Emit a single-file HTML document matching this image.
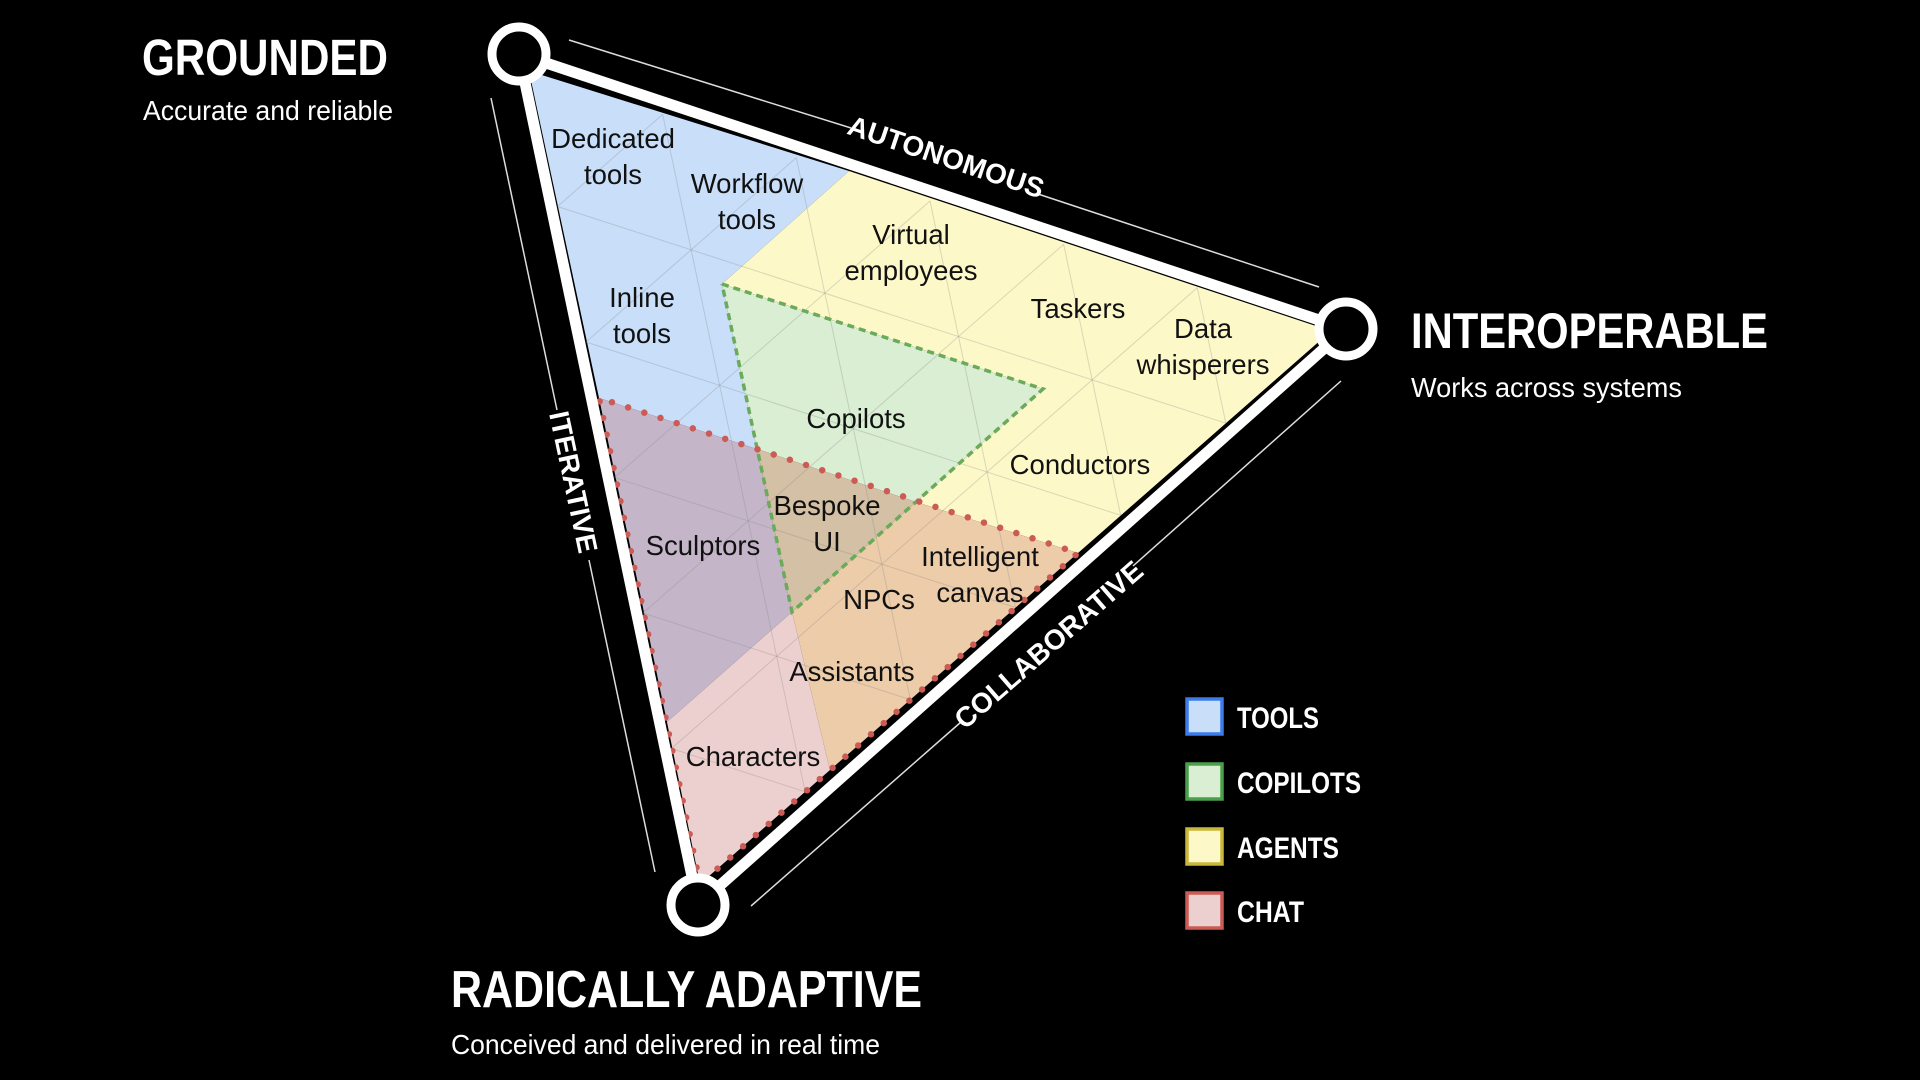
<!DOCTYPE html>
<html><head><meta charset="utf-8"><style>
html,body{margin:0;padding:0;background:#000;}
svg{display:block}
.h{font-family:"Liberation Sans Narrow","Liberation Sans",sans-serif;font-weight:bold;fill:#fff}
.s{font-family:"Liberation Sans Narrow","Liberation Sans",sans-serif;fill:#fff}
.n{font-family:"Liberation Sans",sans-serif;font-size:27.5px;fill:#111;text-anchor:middle}
.e{font-family:"Liberation Sans Narrow","Liberation Sans",sans-serif;font-weight:bold;font-size:28px;fill:#fff;text-anchor:middle}
</style></head><body>
<svg width="1920" height="1080" viewBox="0 0 1920 1080" xmlns="http://www.w3.org/2000/svg">
<rect width="1920" height="1080" fill="#000"/>
<polygon points="529,71 849,171 722,284 757,449 599,398" fill="#c9def9"/>
<polygon points="849,171 1331,331 1078,553 916,502 1043,389 722,284" fill="#fdf8c8"/>
<polygon points="722,284 1043,389 916,502 757,449" fill="#d9eed3"/>
<polygon points="757,449 916,502 792,612" fill="#d4c0a4"/>
<polygon points="599,398 757,449 792,612 667,722" fill="#c4b6c8"/>
<polygon points="667,722 792,612 830,770 700,884" fill="#ecd0cf"/>
<polygon points="792,612 916,502 1078,553 830,770" fill="#eccca9"/>
<g id="grid" stroke="#888" stroke-opacity="0.3" stroke-width="1"></g>
<polyline points="722,284 1043,389 792,612 722,284" fill="none" stroke="#6aaa5a" stroke-width="3.5" stroke-dasharray="7 5"/>
<polyline points="700,884 599,398 1078,553 700,884" fill="none" stroke="#cc5a55" stroke-width="6.5" stroke-dasharray="0 17" stroke-linecap="round"/>
<polygon points="519,54 1346,329 698,905" fill="none" stroke="#fff" stroke-width="11" stroke-linejoin="round"/>
<g fill="#000" stroke="#fff" stroke-width="9">
<circle cx="519" cy="54" r="27"/><circle cx="1346" cy="329" r="27"/><circle cx="698" cy="905" r="27"/>
</g>
<g stroke="#ddd" stroke-width="1.5">
<line x1="569" y1="40" x2="851" y2="128"/><line x1="1038" y1="194" x2="1319" y2="287"/>
<line x1="491" y1="98" x2="557" y2="410"/><line x1="589" y1="560" x2="655" y2="872"/>
<line x1="1341" y1="381" x2="1133" y2="566"/><line x1="961" y1="722" x2="751" y2="906"/>
</g>
<text class="e" transform="translate(943,166) rotate(18.5)">AUTONOMOUS</text>
<text class="e" transform="translate(564,484) rotate(78)">ITERATIVE</text>
<text class="e" transform="translate(1055,652) rotate(-41)">COLLABORATIVE</text>
<text class="h" x="142" y="75" font-size="51" textLength="246" lengthAdjust="spacingAndGlyphs">GROUNDED</text>
<text class="s" x="143" y="120" font-size="28" textLength="250" lengthAdjust="spacingAndGlyphs">Accurate and reliable</text>
<text class="h" x="1411" y="348" font-size="50" textLength="357" lengthAdjust="spacingAndGlyphs">INTEROPERABLE</text>
<text class="s" x="1411" y="397" font-size="28" textLength="271" lengthAdjust="spacingAndGlyphs">Works across systems</text>
<text class="h" x="451" y="1007" font-size="52" textLength="471" lengthAdjust="spacingAndGlyphs">RADICALLY ADAPTIVE</text>
<text class="s" x="451" y="1054" font-size="28" textLength="429" lengthAdjust="spacingAndGlyphs">Conceived and delivered in real time</text>
<text class="n" x="613" y="148">Dedicated</text><text class="n" x="613" y="184">tools</text>
<text class="n" x="747" y="193">Workflow</text><text class="n" x="747" y="229">tools</text>
<text class="n" x="911" y="244">Virtual</text><text class="n" x="911" y="280">employees</text>
<text class="n" x="642" y="307">Inline</text><text class="n" x="642" y="343">tools</text>
<text class="n" x="1078" y="318">Taskers</text>
<text class="n" x="1203" y="338">Data</text><text class="n" x="1203" y="374">whisperers</text>
<text class="n" x="856" y="428">Copilots</text>
<text class="n" x="1080" y="474">Conductors</text>
<text class="n" x="827" y="515">Bespoke</text><text class="n" x="827" y="551">UI</text>
<text class="n" x="703" y="555">Sculptors</text>
<text class="n" x="980" y="566">Intelligent</text><text class="n" x="980" y="602">canvas</text>
<text class="n" x="879" y="609">NPCs</text>
<text class="n" x="852" y="681">Assistants</text>
<text class="n" x="753" y="766">Characters</text>
<rect x="1187" y="699" width="35" height="35" fill="#c9def9" stroke="#3b7bea" stroke-width="3.5"/>
<rect x="1187" y="764" width="35" height="35" fill="#d9eed3" stroke="#4aa04a" stroke-width="3.5"/>
<rect x="1187" y="829" width="35" height="35" fill="#fdf8c8" stroke="#c9b83a" stroke-width="3.5"/>
<rect x="1187" y="893" width="35" height="35" fill="#ecd0cf" stroke="#cc5a55" stroke-width="3.5"/>
<text class="h" x="1237" y="728" font-size="30" textLength="82" lengthAdjust="spacingAndGlyphs">TOOLS</text>
<text class="h" x="1237" y="793" font-size="30" textLength="124" lengthAdjust="spacingAndGlyphs">COPILOTS</text>
<text class="h" x="1237" y="858" font-size="30" textLength="102" lengthAdjust="spacingAndGlyphs">AGENTS</text>
<text class="h" x="1237" y="922" font-size="30" textLength="67" lengthAdjust="spacingAndGlyphs">CHAT</text>
</svg>
<script>
(function(){
var A=[529,71],B=[1331,331],C=[700,884],n=6,g=document.getElementById('grid'),ns='http://www.w3.org/2000/svg';
function P(a,b,c){return [A[0]*a+B[0]*b+C[0]*c,A[1]*a+B[1]*b+C[1]*c];}
function L(p,q){var l=document.createElementNS(ns,'line');l.setAttribute('x1',p[0]);l.setAttribute('y1',p[1]);l.setAttribute('x2',q[0]);l.setAttribute('y2',q[1]);g.appendChild(l);}
for(var i=1;i<n;i++){var t=i/n;
L(P(t,1-t,0),P(t,0,1-t));L(P(1-t,t,0),P(0,t,1-t));L(P(1-t,0,t),P(0,1-t,t));}
})();
</script>
</body></html>
